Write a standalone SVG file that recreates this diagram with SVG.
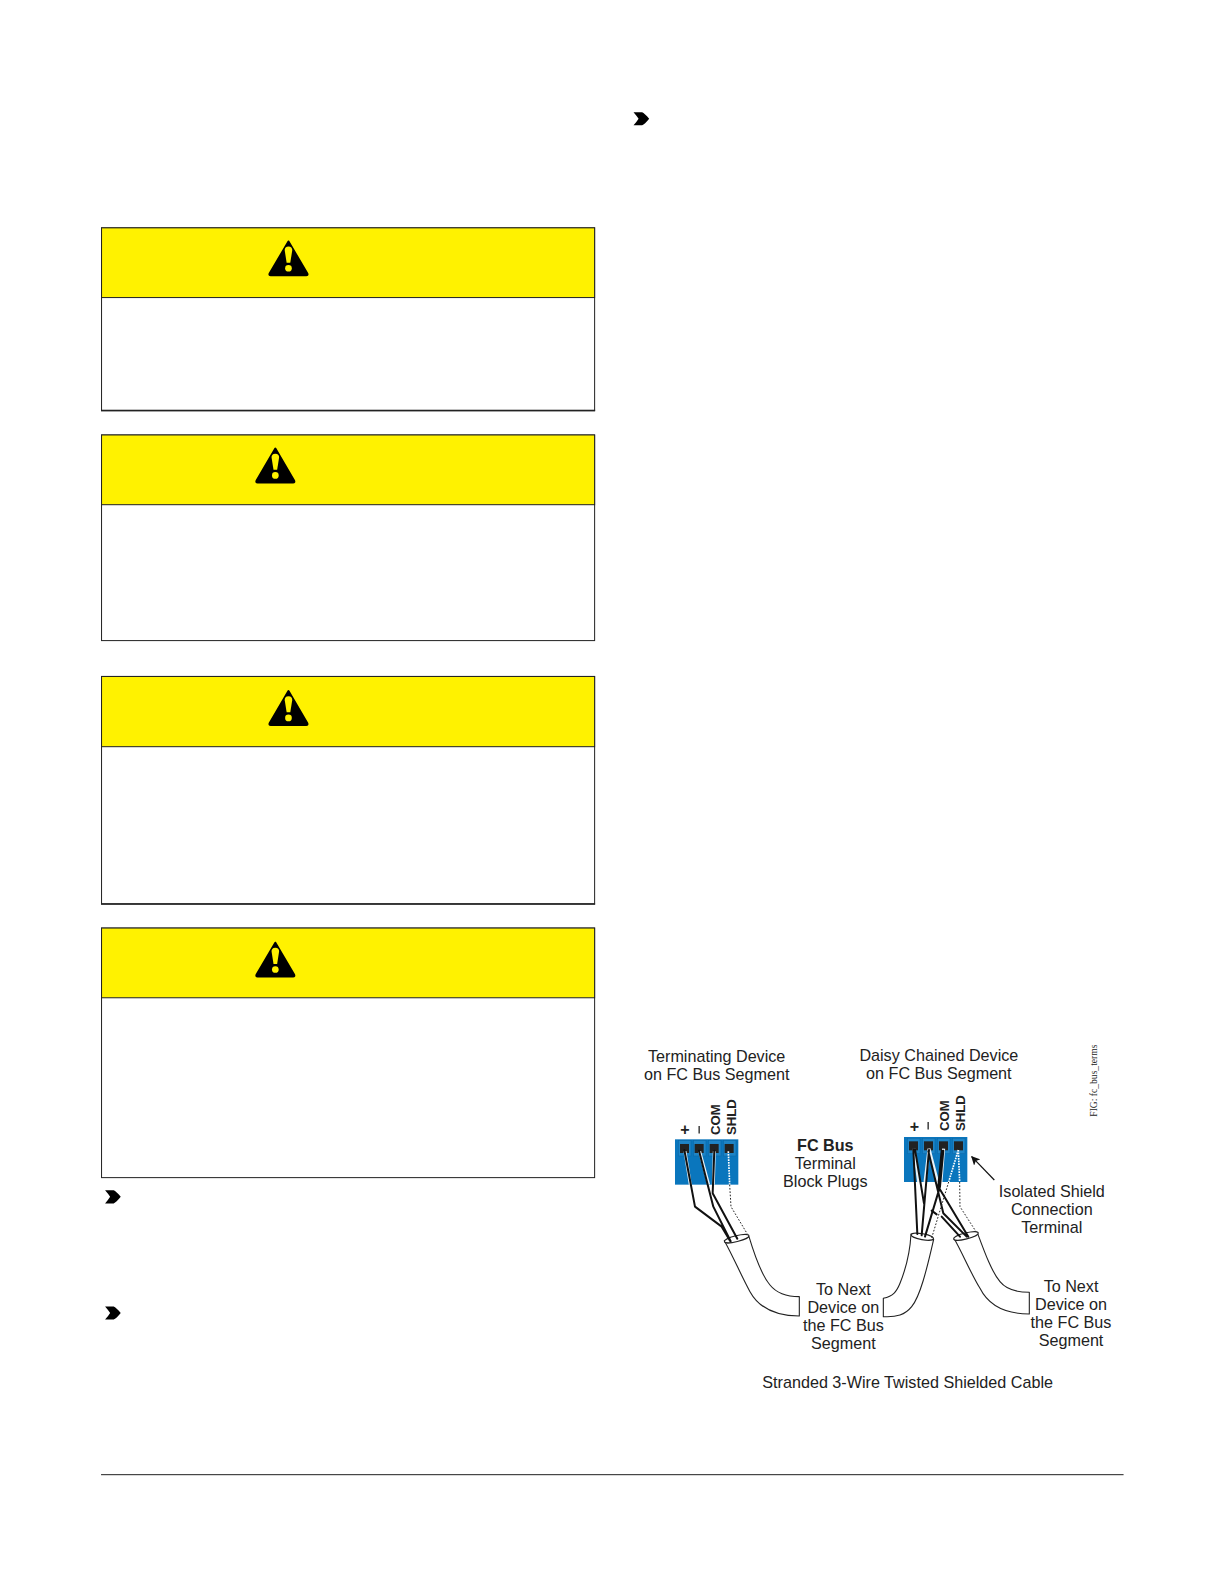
<svg xmlns="http://www.w3.org/2000/svg" width="1224" height="1584" viewBox="0 0 1224 1584">
<style>
text{font-family:"Liberation Sans",Arial,sans-serif;fill:#222;font-size:16px;text-anchor:middle}
.b{font-weight:bold}
.pl{font-size:13.200px;font-weight:bold;text-anchor:start}
.fig{font-family:"Liberation Serif","Times New Roman",serif;font-size:9.500px}
.box{fill:#fff;stroke:#222;stroke-width:1}
.hdr{fill:#fff200;stroke:#222;stroke-width:1}
.blk{fill:#0a76bd}
.pin{fill:#1e84c6;stroke:#0c66a6;stroke-width:1.500}
.sq{fill:#222}
.w{fill:none;stroke:#111;stroke-width:6;stroke-linejoin:round;stroke-linecap:round}
.hl{fill:none;stroke:#e8f2f8;stroke-width:9}
.d{fill:none;stroke:#222;stroke-width:3;stroke-dasharray:5 5}
.dw{fill:none;stroke:#fff;stroke-width:5;stroke-dasharray:5 3}
.c{fill:#fff;stroke:#222;stroke-width:3.300;stroke-linejoin:round}
</style>
<defs>
<g id="warn">
<path d="M0-16L18.500 15.500Q19.500 17.500 17.500 17.500H-17.500Q-19.500 17.500-18.500 15.500Z" fill="#000" stroke="#000" stroke-width="2" stroke-linejoin="round"/>
<path d="M0-11C2.800-11 4-9 3.700-7L1.800 5H-1.800L-3.700-7C-4-9-2.800-11 0-11Z" fill="#fff200"/>
<circle cx="0" cy="10.500" r="3.300" fill="#fff200"/>
</g>
<path id="bul" d="M0 0H8.500Q11 1 15.500 6.500Q11 12 8.500 13H0Q3.500 9 5 6.500Q3.500 4 0 0Z" fill="#000"/>
<marker id="ah" viewBox="0 0 10 10" refX="9" refY="5" markerWidth="9" markerHeight="9" markerUnits="userSpaceOnUse" orient="auto"><path d="M0 0L10 5L0 10L2.500 5Z" fill="#111"/></marker>
</defs>

<g transform="scale(1.0104)">
<g id="caution-1"><rect class="box" x="100.500" y="225.500" width="488" height="181"/><rect x="100" y="405.500" width="489" height="1.500" fill="#222"/><rect class="hdr" x="100.500" y="225.500" width="488" height="69"/><use href="#warn" x="285.500" y="255"/></g>
<g id="caution-2"><rect class="box" x="100.500" y="430.500" width="488" height="203.500"/><rect class="hdr" x="100.500" y="430.500" width="488" height="69"/><use href="#warn" x="272.500" y="460"/></g>
<g id="caution-3"><rect class="box" x="100.500" y="669.500" width="488" height="225"/><rect x="100" y="894" width="489" height="1.500" fill="#222"/><rect class="hdr" x="100.500" y="669.500" width="488" height="69.500"/><use href="#warn" x="285.500" y="700"/></g>
<g id="caution-4"><rect class="box" x="100.500" y="918.500" width="488" height="247"/><rect class="hdr" x="100.500" y="918.500" width="488" height="69"/><use href="#warn" x="272.500" y="949"/></g>
<g id="bullets"><use href="#bul" x="104" y="1178"/><use href="#bul" x="104" y="1293"/><use href="#bul" x="627" y="111"/></g>
<rect id="footer-rule" x="100" y="1459" width="1012" height="1" fill="#222"/>
<g id="labels">
<text x="709.300" y="1051">Terminating Device</text><text x="709.300" y="1069">on FC Bus Segment</text>
<text x="929.200" y="1050">Daisy Chained Device</text><text x="929.200" y="1068">on FC Bus Segment</text>
<text class="b" x="816.800" y="1139">FC Bus</text><text x="816.800" y="1157">Terminal</text><text x="816.800" y="1175">Block Plugs</text>
<text x="1041" y="1185">Isolated Shield</text><text x="1041" y="1202.500">Connection</text><text x="1041" y="1220.500">Terminal</text>
<text x="834.700" y="1282">To Next</text><text x="834.700" y="1299.500">Device on</text><text x="834.700" y="1317.500">the FC Bus</text><text x="834.700" y="1335.500">Segment</text>
<text x="1060" y="1279">To Next</text><text x="1060" y="1296.500">Device on</text><text x="1060" y="1314.500">the FC Bus</text><text x="1060" y="1332.500">Segment</text>
<text x="898.300" y="1374">Stranded 3-Wire Twisted Shielded Cable</text>
<text class="fig" transform="translate(1085.500 1069.500) rotate(-90)">FIG: fc_bus_terms</text>
</g>
</g>

<g id="terminal-left" transform="translate(630 1080) scale(.3333)">
<rect class="blk" x="135" y="178" width="190" height="136"/>
<rect class="pin" x="146" y="182" width="37" height="46"/><rect class="pin" x="191" y="182" width="37" height="46"/><rect class="pin" x="236" y="182" width="37" height="46"/><rect class="pin" x="281" y="182" width="37" height="46"/>
<rect class="sq" x="150" y="192" width="27" height="27"/><rect class="sq" x="194" y="192" width="27" height="27"/><rect class="sq" x="239" y="192" width="27" height="27"/><rect class="sq" x="284" y="192" width="27" height="27"/>
</g>
<g id="terminal-right" transform="translate(860 1080) scale(.3333)">
<rect class="blk" x="132" y="171" width="190" height="135"/>
<rect class="pin" x="143" y="175" width="37" height="46"/><rect class="pin" x="188" y="175" width="37" height="46"/><rect class="pin" x="233" y="175" width="37" height="46"/><rect class="pin" x="278" y="175" width="37" height="46"/>
<rect class="sq" x="147" y="184" width="27" height="27"/><rect class="sq" x="192" y="184" width="27" height="27"/><rect class="sq" x="237" y="184" width="27" height="27"/><rect class="sq" x="282" y="184" width="27" height="27"/>
</g>
<g id="pin-labels">
<text class="pl" style="font-size:16px;text-anchor:middle" x="685" y="1135">+</text>
<rect x="698.500" y="1126" width="1.300" height="7.500" fill="#222"/>
<text class="pl" transform="translate(719.500 1135) rotate(-90)">COM</text>
<text class="pl" transform="translate(735.500 1135) rotate(-90)">SHLD</text>
<text class="pl" style="font-size:16px;text-anchor:middle" x="914.500" y="1132">+</text>
<rect x="927.500" y="1122" width="1.300" height="7.500" fill="#222"/>
<text class="pl" transform="translate(948.500 1131) rotate(-90)">COM</text>
<text class="pl" transform="translate(964.500 1131) rotate(-90)">SHLD</text>
</g>

<g id="connectors">
<g id="left-wiring" transform="translate(630 1080) scale(.3333)">
<path class="c" d="M283 482C310 530 335 590 360 635C385 680 430 708 508 708V650C470 650 440 640 420 615C395 585 375 530 357 470Z"/>
<ellipse class="c" cx="320" cy="476" rx="38" ry="9" transform="rotate(-14 320 476)" fill="none"/>
<path class="hl" d="M165 214L181 314M209 214L236 314M253 214L250 314"/>
<path class="w" d="M163 210L195 380L275 440L300 482M207 212L250 380L302 484M253 212L248 340L322 476"/>
<path class="dw" d="M295 214L299 314"/>
<path class="d" d="M299 314L303 380L352 462"/>
</g>
<g id="right-wiring" transform="translate(860 1080) scale(.3333)">
<path class="c" d="M153 462C150 520 140 560 120 610C110 635 100 648 70 655V710C110 712 135 705 155 680C180 650 200 570 221 478Z"/>
<ellipse class="c" cx="187" cy="470" rx="34" ry="9" transform="rotate(10 187 470)" fill="none"/>
<path class="c" d="M282 475C310 525 335 585 360 625C385 675 430 702 508 702V637C470 637 440 630 420 605C395 575 375 520 352 458Z"/>
<ellipse class="c" cx="318" cy="468" rx="38" ry="9" transform="rotate(-14 318 468)" fill="none"/>
<path class="hl" d="M162 206L176 306M207 206L195 306M207 206L233 306M251 206L243 306"/>
<path class="w" d="M160 208L172 462M165 208L192 370M207 210L185 466M205 214L250 400L320 470M250 212L240 320L195 470M245 212L235 320L250 345L325 470"/>
<path class="w" d="M215 392L230 403M245 410L300 470"/>
<path class="dw" d="M295 210L266 306M295 210L299 306"/>
<path class="d" d="M266 306L215 474M299 306L300 380L350 458"/>
</g>
<path id="shield-arrow" fill="none" stroke="#111" stroke-width="1.200" marker-end="url(#ah)" d="M994.300 1180L971.700 1156.700"/>
</g>
</svg>
